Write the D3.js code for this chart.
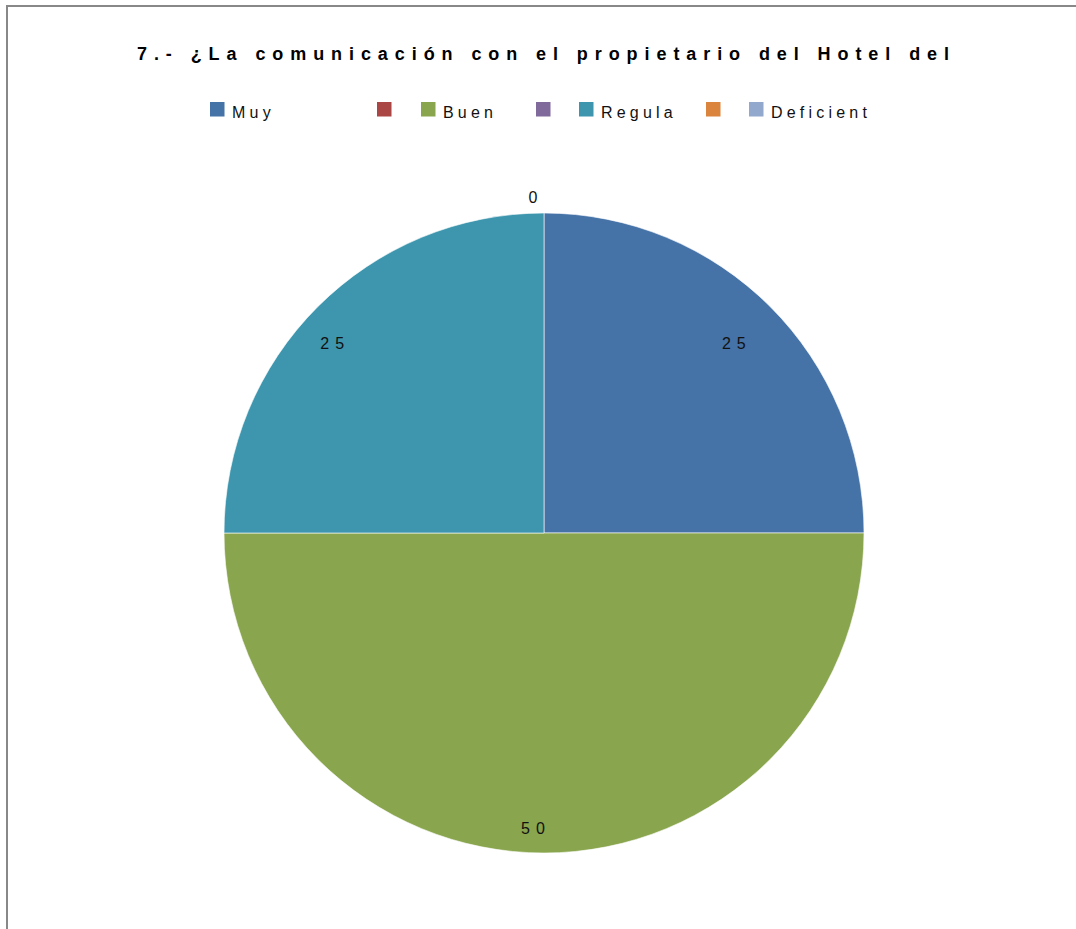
<!DOCTYPE html>
<html>
<head>
<meta charset="utf-8">
<script src="https://cdn.jsdelivr.net/npm/d3@7"></script>
<style>
  body { margin: 0; background: #fff; }
  svg { display: block; font-family: "Liberation Sans", Arial, sans-serif; }
</style>
</head>
<body>
<svg width="1076" height="929"></svg>
<script>
// data
var categories = ["Muy", "", "Buen", "", "Regula", "", "Deficient"];
var values = [25, null, 50, null, 25, null, 0];
var colors = ["#4572A7", "#AA4643", "#89A54E", "#80699B", "#3D96AE", "#DB843D", "#92A8CD"];
var title = "7.- ¿La comunicación con el propietario del Hotel del";

// legend layout (left x of each swatch)
var legendX = [210, 377, 421, 536, 579, 706, 749];

var svg = d3.select("svg"),
    cx = 544, cy = 533, radius = 320;

// frame
svg.append("rect")
    .attr("x", 7).attr("y", 6)
    .attr("width", 1200).attr("height", 1200)
    .attr("fill", "none")
    .attr("stroke", "#888")
    .attr("stroke-width", 2);

// title, stretched with letter spacing to the original width
var t = svg.append("text")
    .attr("x", 137).attr("y", 59.5)
    .attr("font-size", 18)
    .attr("font-weight", "bold")
    .attr("fill", "#000")
    .text(title);
var w0 = t.node().getComputedTextLength();
t.attr("letter-spacing", (812 - w0) / (title.length - 1));

// legend
var legend = svg.append("g").selectAll("g")
    .data(categories)
    .enter().append("g")
    .attr("transform", function(d, i) { return "translate(" + legendX[i] + ",102)"; });

legend.append("rect")
    .attr("width", 14.5).attr("height", 14.5)
    .attr("fill", function(d, i) { return colors[i]; });

legend.append("text")
    .attr("x", 22).attr("y", 16)
    .attr("font-size", 16)
    .attr("letter-spacing", 4.2)
    .attr("fill", "#111")
    .text(function(d) { return d; });

// pie
var pie = d3.pie()
    .sort(null)
    .value(function(d) { return d.value || 0; });

var arcs = pie(categories.map(function(c, i) { return {name: c, value: values[i], i: i}; }));

var arc = d3.arc().innerRadius(0).outerRadius(radius);
var labelArc = d3.arc().innerRadius(284).outerRadius(284);
var outArc = d3.arc().innerRadius(347).outerRadius(347);

var chart = svg.append("g").attr("transform", "translate(" + cx + "," + cy + ")");

chart.selectAll("path")
    .data(arcs.filter(function(d) { return d.value > 0; }))
    .enter().append("path")
    .attr("d", arc)
    .attr("fill", function(d) { return colors[d.data.i]; })
    .attr("stroke", "#fff")
    .attr("stroke-width", 0.6);

chart.selectAll(".lbl")
    .data(arcs.filter(function(d) { return d.data.value !== null; }))
    .enter().append("text")
    .attr("class", "lbl")
    .attr("transform", function(d) {
        var c = d.value > 0 ? labelArc.centroid(d) : outArc.centroid(d);
        return "translate(" + (c[0] - 8) + "," + (c[1] + 17) + ")";
    })
    .attr("text-anchor", "middle")
    .attr("font-size", 16)
    .attr("letter-spacing", 6)
    .attr("fill", "#111")
    .text(function(d) { return d.data.value; });
</script>
</body>
</html>
